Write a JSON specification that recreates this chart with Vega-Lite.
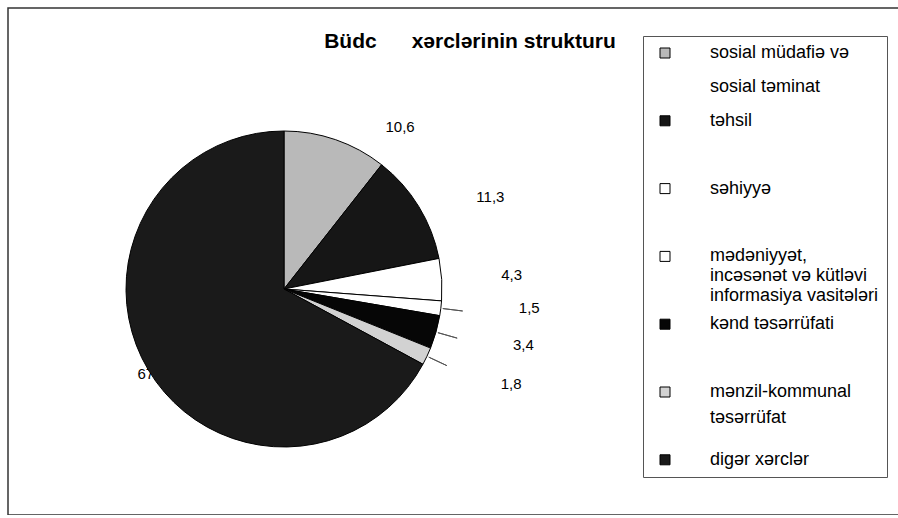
{
  "$schema": "https://vega.github.io/schema/vega-lite/v6.json",
  "width": 900,
  "height": 507,
  "autosize": {"type": "none"},
  "padding": {"left": 8, "top": 8, "right": 0, "bottom": 0},
  "background": "#ffffff",
  "view": {"stroke": "#333333", "strokeWidth": 1.5, "fill": "#ffffff"},
  "title": {
    "text": "Büdc\u00a0\u00a0\u00a0\u00a0\u00a0\u00a0xərclərinin strukturu",
    "font": "Liberation Sans",
    "fontSize": 21,
    "fontWeight": "bold",
    "color": "#000000",
    "anchor": "middle",
    "frame": "group",
    "offset": -44,
    "dx": 12
  },
  "data": {
    "values": [
      {"name": "sosial müdafiə və sosial təminat", "value": 10.6, "order": 1},
      {"name": "təhsil", "value": 11.3, "order": 2},
      {"name": "səhiyyə", "value": 4.3, "order": 3},
      {"name": "mədəniyyət, incəsənət və kütləvi informasiya vasitələri", "value": 1.5, "order": 4},
      {"name": "kənd təsərrüfati", "value": 3.4, "order": 5},
      {"name": "mənzil-kommunal təsərrüfat", "value": 1.8, "order": 6},
      {"name": "digər xərclər", "value": 67.1, "order": 7}
    ]
  },
  "encoding": {
    "theta": {"field": "value", "type": "quantitative", "stack": true},
    "order": {"field": "order", "type": "quantitative"},
    "detail": {"field": "name", "type": "nominal"}
  },
  "layer": [
    {
      "mark": {"type": "text", "radius": 157, "thetaOffset": -0.035, "x": 276, "y": 281, "font": "Liberation Sans", "fontSize": 15, "color": "#000000"},
      "encoding": {
        "text": {"field": "value", "type": "quantitative", "format": ".1f"},
        "opacity": {"condition": {"test": "datum.order == 7", "value": 1}, "value": 0}
      }
    },
    {
      "mark": {"type": "arc", "outerRadius": 158, "x": 276, "y": 281, "stroke": "#000000", "strokeWidth": 1},
      "encoding": {
        "color": {
          "field": "name",
          "type": "nominal",
          "scale": {
            "domain": ["sosial müdafiə və sosial təminat", "təhsil", "səhiyyə", "mədəniyyət, incəsənət və kütləvi informasiya vasitələri", "kənd təsərrüfati", "mənzil-kommunal təsərrüfat", "digər xərclər"],
            "range": ["#b9b9b9", "#161616", "#ffffff", "#ffffff", "#060606", "#d2d2d2", "#1a1a1a"]
          },
          "legend": {
            "orient": "none",
            "legendX": 635,
            "legendY": 28,
            "title": null,
            "labelExpr": "datum.label == 'sosial müdafiə və sosial təminat' ? ['sosial müdafiə və', 'sosial təminat'] : datum.label == 'mədəniyyət, incəsənət və kütləvi informasiya vasitələri' ? ['mədəniyyət,', 'incəsənət və kütləvi', 'informasiya vasitələri'] : datum.label == 'mənzil-kommunal təsərrüfat' ? ['mənzil-kommunal', 'təsərrüfat'] : datum.label",
            "labelFont": "Liberation Sans",
            "labelFontSize": 18,
            "labelColor": "#000000",
            "labelLimit": 400,
            "labelOffset": 36,
            "labelBaseline": "middle",
            "symbolType": "square",
            "symbolSize": 100,
            "symbolStrokeColor": "#000000",
            "symbolStrokeWidth": 1,
            "symbolOffset": 5,
            "strokeColor": "#555555",
            "padding": 8,
            "clipHeight": 18,
            "gridAlign": "all",
            "rowPadding": 9.8,
            "encoding": {
              "labels": {
                "lineHeight": {"value": {"expr": "datum.label == 'sosial müdafiə və sosial təminat' ? 34 : datum.label == 'mənzil-kommunal təsərrüfat' ? 26 : 20"}}
              }
            }
          }
        }
      }
    },
    {
      "mark": {"type": "arc", "innerRadius": 160, "outerRadius": 180, "padAngle": 3, "x": 276, "y": 281, "fillOpacity": 0, "stroke": "#555555", "strokeWidth": 1},
      "encoding": {
        "strokeOpacity": {"condition": {"test": "datum.order >= 4 && datum.order <= 6", "value": 1}, "value": 0}
      }
    },
    {
      "mark": {"type": "text", "radius": 199, "thetaOffset": 0.29, "x": 276, "y": 281, "font": "Liberation Sans", "fontSize": 15, "color": "#000000"},
      "encoding": {
        "text": {"field": "value", "type": "quantitative", "format": ".1f"},
        "opacity": {"condition": {"test": "datum.order == 1", "value": 1}, "value": 0}
      }
    },
    {
      "mark": {"type": "text", "radius": 226, "thetaOffset": 0.13, "x": 276, "y": 281, "font": "Liberation Sans", "fontSize": 15, "color": "#000000"},
      "encoding": {
        "text": {"field": "value", "type": "quantitative", "format": ".1f"},
        "opacity": {"condition": {"test": "datum.order == 2", "value": 1}, "value": 0}
      }
    },
    {
      "mark": {"type": "text", "radius": 228, "x": 276, "y": 281, "font": "Liberation Sans", "fontSize": 15, "color": "#000000"},
      "encoding": {
        "text": {"field": "value", "type": "quantitative", "format": ".1f"},
        "opacity": {"condition": {"test": "datum.order == 3", "value": 1}, "value": 0}
      }
    },
    {
      "mark": {"type": "text", "radius": 246, "thetaOffset": -0.045, "x": 276, "y": 281, "font": "Liberation Sans", "fontSize": 15, "color": "#000000"},
      "encoding": {
        "text": {"field": "value", "type": "quantitative", "format": ".1f"},
        "opacity": {"condition": {"test": "datum.order >= 4 && datum.order <= 6", "value": 1}, "value": 0}
      }
    }
  ],
  "config": {
    "locale": {"number": {"decimal": ",", "thousands": " ", "grouping": [3], "currency": ["", ""]}},
    "view": {"stroke": "#333333", "strokeWidth": 1.5},
    "style": {"cell": {"stroke": "#333333", "strokeWidth": 1.5}},
    "font": "Liberation Sans"
  }
}
